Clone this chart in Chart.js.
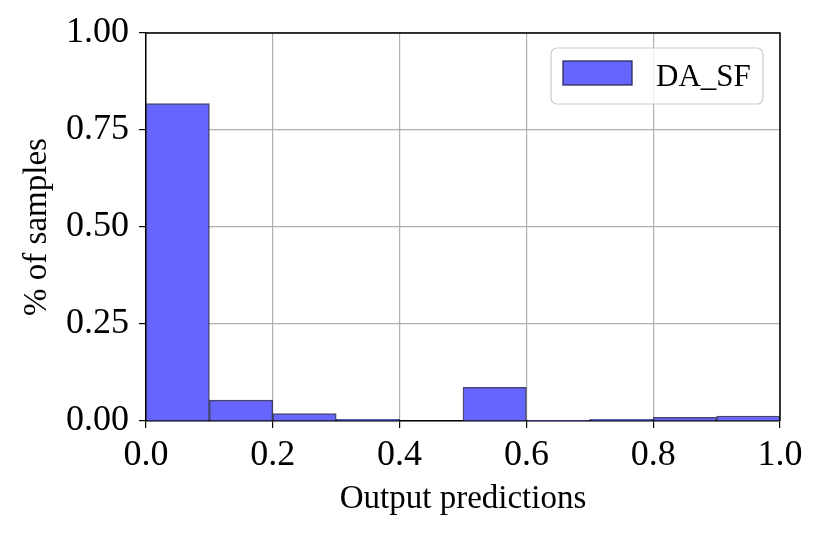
<!DOCTYPE html>
<html>
<head>
<meta charset="utf-8">
<script src="https://cdn.jsdelivr.net/npm/chart.js@4"></script>
<style>
  html, body { margin: 0; padding: 0; background: #fff; }
  #wrap { width: 822px; height: 536px; }
</style>
</head>
<body>
<div id="wrap"><canvas id="myChart" width="822" height="536"></canvas></div>
<script>
// histogram bins (centres) and fraction of samples in each
const binCenters = [0.05, 0.15, 0.25, 0.35, 0.45, 0.55, 0.65, 0.75, 0.85, 0.95];
const fractions = [0.818, 0.054, 0.019, 0.004, 0, 0.087, 0.001, 0.004, 0.0095, 0.013];
const xTicks = [0, 0.2, 0.4, 0.6, 0.8, 1.0];
const yTicks = [0, 0.25, 0.5, 0.75, 1.0];
const seriesName = "DA_SF";

const ctx = document.getElementById("myChart").getContext("2d");

// top/right frame lines, like the matplotlib axes box
const frame = {
  id: "frame",
  afterDatasetsDraw(chart) {
    const a = chart.chartArea, c = chart.ctx;
    c.save();
    c.strokeStyle = "#000";
    c.lineWidth = 1.5;
    c.beginPath();
    c.moveTo(a.left, a.top);
    c.lineTo(a.right, a.top);
    c.lineTo(a.right, a.bottom);
    c.stroke();
    c.restore();
  }
};

// boxed legend in the upper right corner of the plot
const boxLegend = {
  id: "boxLegend",
  afterDraw(chart) {
    const c = chart.ctx, ds = chart.data.datasets[0];
    const x = 551, y = 48, w = 212, h = 56, r = 6;
    c.save();
    c.fillStyle = "rgba(255,255,255,0.8)";
    c.strokeStyle = "#cccccc";
    c.lineWidth = 1.2;
    c.beginPath();
    c.roundRect(x, y, w, h, r);
    c.fill();
    c.stroke();
    c.fillStyle = ds.backgroundColor;
    c.strokeStyle = ds.borderColor;
    c.lineWidth = 1.5;
    c.fillRect(563, 61, 69, 24);
    c.strokeRect(563, 61, 69, 24);
    c.fillStyle = "#000";
    c.font = "31px 'Liberation Serif'";
    c.textBaseline = "alphabetic";
    c.fillText(ds.label, 656, 86);
    c.restore();
  }
};

const data = {
  datasets: [{
    label: seriesName,
    data: binCenters.map((x, i) => ({ x: x, y: fractions[i] })),
    backgroundColor: "rgb(102,102,255)",
    borderColor: "rgba(40,40,90,0.85)",
    borderWidth: 1.5,
    borderSkipped: "bottom",
    barPercentage: 1,
    categoryPercentage: 1
  }]
};

const tickFont = { family: "'Liberation Serif'", size: 36 };
const titleFont = { family: "'Liberation Serif'", size: 33 };

const config = {
  type: "bar",
  data: data,
  plugins: [frame, boxLegend],
  options: {
    responsive: false,
    animation: false,
    layout: { padding: { top: 33, right: 42, left: 18, bottom: 17 } },
    plugins: {
      legend: { display: false },
      tooltip: { enabled: false }
    },
    scales: {
      x: {
        type: "linear",
        min: 0,
        max: 1,
        offset: false,
        afterBuildTicks: s => { s.ticks = xTicks.map(v => ({ value: v })); },
        afterFit: s => { s.height = 98; },
        ticks: {
          color: "#000",
          font: tickFont,
          padding: 6,
          maxRotation: 0,
          callback: v => v.toFixed(1)
        },
        grid: { offset: false, color: "#b0b0b0", lineWidth: 1.2, tickColor: "#000", tickLength: 7 },
        border: { color: "#000", width: 1.5 },
        title: { display: true, text: "Output predictions", color: "#000", font: titleFont, padding: 0 }
      },
      y: {
        min: 0,
        max: 1,
        afterBuildTicks: s => { s.ticks = yTicks.map(v => ({ value: v })); },
        afterFit: s => { s.width = 128; },
        ticks: {
          color: "#000",
          font: tickFont,
          padding: 10,
          callback: v => v.toFixed(2)
        },
        grid: { color: "#b0b0b0", lineWidth: 1.2, tickColor: "#000", tickLength: 7 },
        border: { color: "#000", width: 1.5 },
        title: { display: true, text: "% of samples", color: "#000", font: titleFont, padding: 0 }
      }
    }
  }
};

const myChart = new Chart(ctx, config);
</script>
</body>
</html>
